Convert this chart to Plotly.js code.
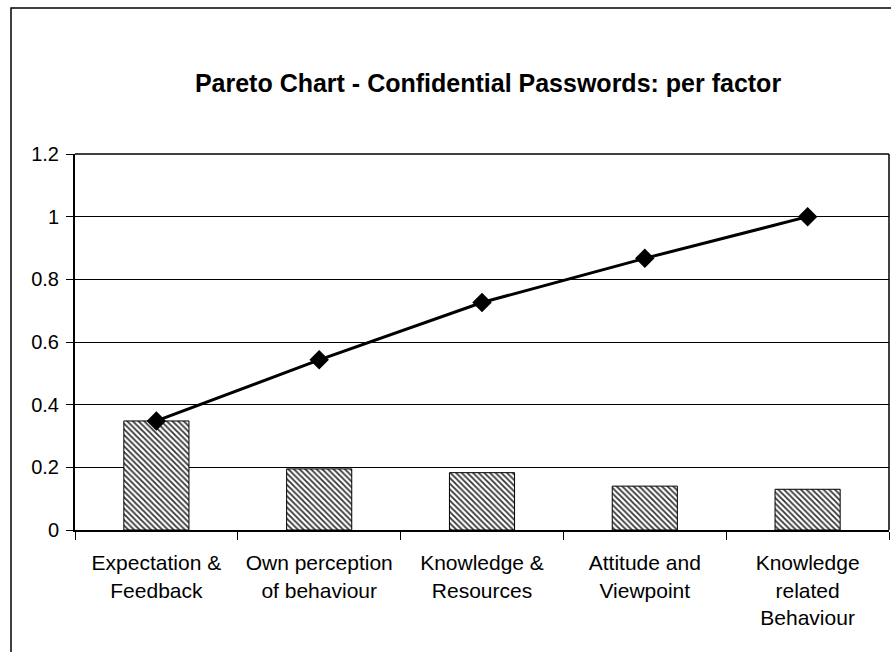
<!DOCTYPE html>
<html>
<head>
<meta charset="utf-8">
<script src="https://cdn.plot.ly/plotly-3.0.1.min.js"></script>
<style>
  html, body { margin: 0; padding: 0; background: #fff; }
  #chart { width: 891px; height: 652px; }
</style>
</head>
<body>
<div id="chart"></div>
<script>
const categories = ['Expectation & Feedback', 'Own perception of behaviour', 'Knowledge & Resources', 'Attitude and Viewpoint', 'Knowledge related Behaviour'];
const tickLabels = ['Expectation &<br>Feedback', 'Own perception<br>of behaviour', 'Knowledge &<br>Resources', 'Attitude and<br>Viewpoint', 'Knowledge<br>related<br>Behaviour'];
const factorShare = [0.348, 0.195, 0.183, 0.140, 0.130];
const cumulativeShare = [0.348, 0.543, 0.726, 0.867, 1.0];
const yTickValues = [0, 0.2, 0.4, 0.6, 0.8, 1, 1.2];
const yTickLabels = ['0', '0.2', '0.4', '0.6', '0.8', '1', '1.2'];
const chartTitle = 'Pareto Chart - Confidential Passwords: per factor';

const font = 'Arial, "Liberation Sans", sans-serif';

const traces = [
  {
    type: 'bar',
    x: categories,
    y: factorShare,
    width: 0.4,
    marker: {
      color: '#ffffff',
      line: { color: '#000000', width: 1 },
      pattern: { shape: '\\', fgcolor: '#333333', bgcolor: '#ffffff', size: 4, solidity: 0.45 }
    },
    showlegend: false,
    hoverinfo: 'x+y'
  },
  {
    type: 'scatter',
    mode: 'lines+markers',
    x: categories,
    y: cumulativeShare,
    line: { color: '#000000', width: 3 },
    marker: { symbol: 'diamond', size: 15, color: '#000000' },
    showlegend: false
  }
];

const L = 75, R = 889, T = 154, B = 530;
const pw = R - L, ph = B - T;
const px2x = p => (p - L) / pw;
const px2y = p => (B - p) / ph;

const layout = {
  width: 891,
  height: 652,
  margin: { l: L, r: 891 - R, t: T, b: 652 - B, pad: 0 },
  paper_bgcolor: '#ffffff',
  plot_bgcolor: '#ffffff',
  font: { family: font, color: '#000000', size: 20 },
  title: {
    text: chartTitle,
    font: { family: font, size: 25, weight: 'bold', color: '#000000' },
    xref: 'container', yref: 'container',
    x: 488 / 891, xanchor: 'center',
    y: 1 - 83 / 652, yanchor: 'middle'
  },
  xaxis: {
    type: 'category',
    tickmode: 'array',
    tickvals: categories,
    ticktext: tickLabels,
    tickson: 'boundaries',
    ticks: 'outside',
    ticklen: 8,
    tickwidth: 1,
    tickcolor: '#000000',
    showline: true,
    linecolor: '#000000',
    linewidth: 2,
    mirror: false,
    showgrid: false,
    zeroline: false,
    ticklabelstandoff: 13,
    tickfont: { family: font, size: 21, color: '#000000' },
    fixedrange: true
  },
  yaxis: {
    range: [0, 1.2],
    tickmode: 'array',
    tickvals: yTickValues,
    ticktext: yTickLabels,
    ticks: 'outside',
    ticklen: 7,
    tickwidth: 1,
    tickcolor: '#000000',
    showline: true,
    linecolor: '#000000',
    linewidth: 2,
    showgrid: true,
    gridcolor: '#000000',
    gridwidth: 1,
    zeroline: false,
    ticklabelstandoff: 3,
    tickfont: { family: font, size: 20, color: '#000000' },
    fixedrange: true
  },
  shapes: [
    { type: 'line', xref: 'paper', yref: 'paper', x0: 1, x1: 1, y0: 0, y1: 1, line: { color: '#000000', width: 1.5 } },
    { type: 'line', xref: 'paper', yref: 'paper', x0: 0, x1: 1, y0: 1, y1: 1, line: { color: '#000000', width: 1.5 } },
    { type: 'rect', xref: 'paper', yref: 'paper', x0: px2x(11), x1: px2x(905), y0: px2y(670), y1: px2y(8), line: { color: '#000000', width: 1.5 }, fillcolor: 'rgba(0,0,0,0)', layer: 'above' }
  ],
  bargap: 0.6
};

Plotly.newPlot('chart', traces, layout, { displayModeBar: false, staticPlot: true });
</script>
</body>
</html>
